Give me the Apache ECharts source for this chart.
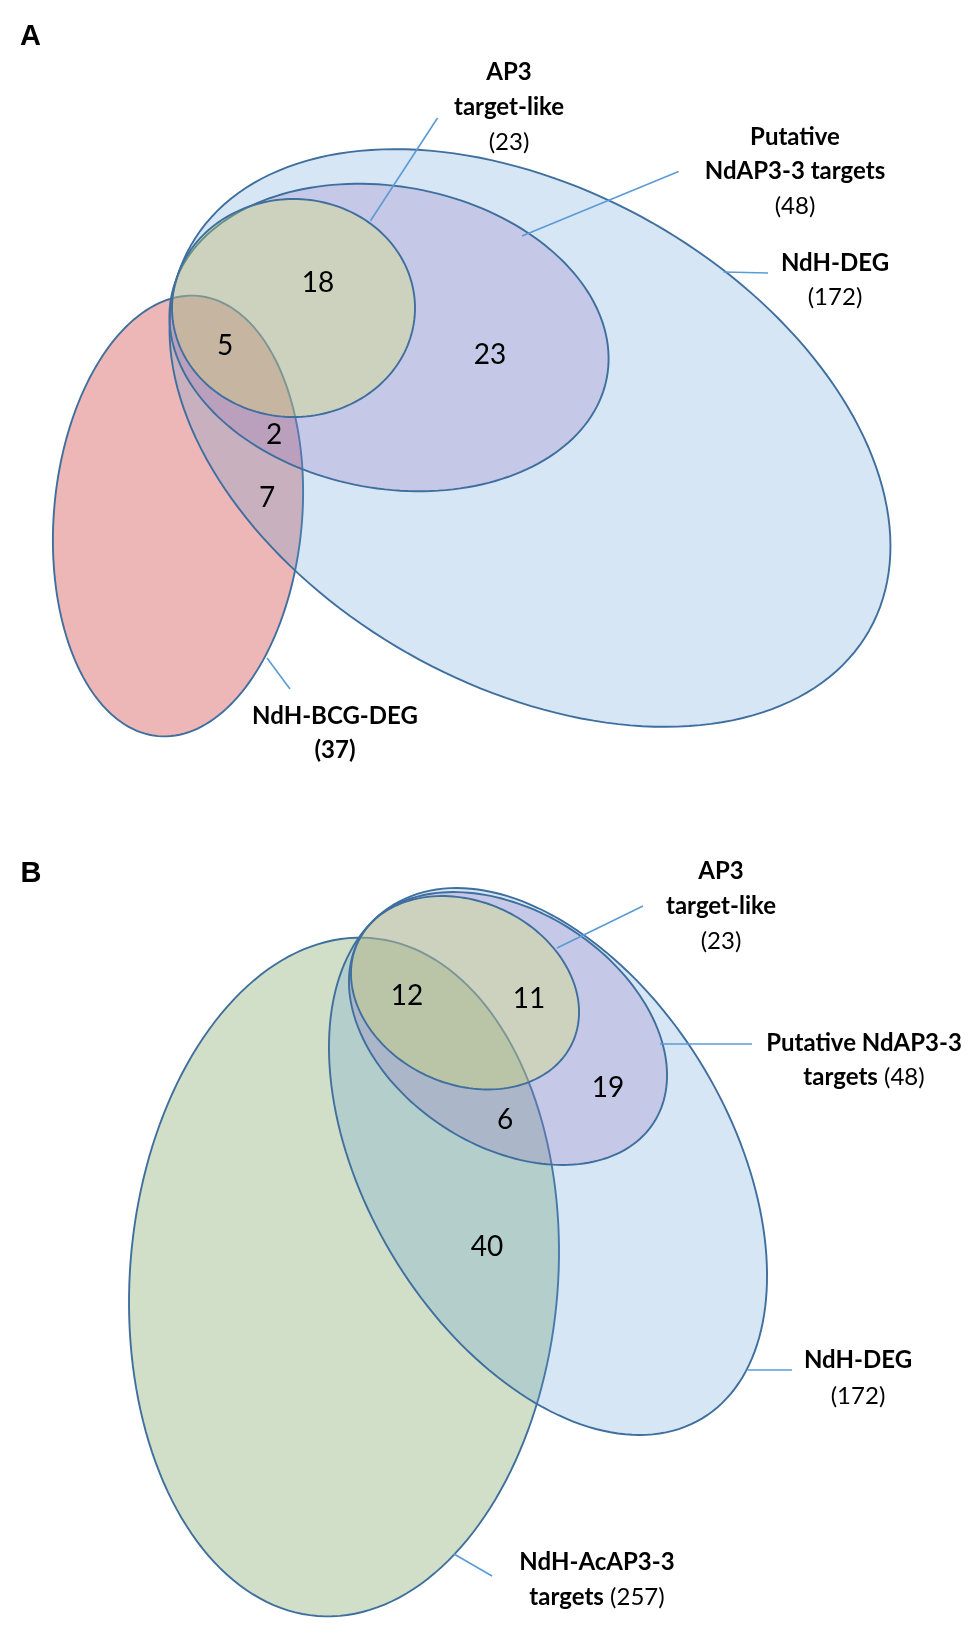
<!DOCTYPE html>
<html>
<head>
<meta charset="utf-8">
<title>Venn</title>
<script src="https://cdn.jsdelivr.net/npm/echarts@6/dist/echarts.min.js"></script>
<style>
html, body { margin: 0; padding: 0; background: #fff; }
#main { width: 975px; height: 1625px; }
</style>
</head>
<body>
<div id="main"></div>
<script>
// set sizes (numbers in brackets)
var setNames = ['NdH-DEG', 'Putative NdAP3-3 targets', 'AP3 target-like', 'NdH-BCG-DEG', 'NdH-AcAP3-3 targets'];
var setSizes = [172, 48, 23, 37, 257];

// counts inside the overlap regions
var regionCountsA = [18, 5, 23, 2, 7];
var regionCountsB = [12, 11, 19, 6, 40];

// where the counts sit (axis units = px, y down)
var regionPosA = [[318, 283], [225, 346], [490, 355], [274, 435], [267, 498]];
var regionPosB = [[407, 996], [529, 999], [608, 1088], [505, 1120], [487, 1247]];

// ellipses: cx, cy, rx, ry, rotation(deg, clockwise), set index
var ellipsesA = [
  [178, 516, 124, 221, 5.2, 3],
  [530, 438, 390, 247.5, 29.6, 0],
  [389, 337.5, 221.5, 151, 10.3, 1],
  [293.5, 308, 121.5, 109, 0, 2]
];
var ellipsesB = [
  [344, 1277, 214, 340, 4.5, 4],
  [548, 1161.5, 299.6, 181.7, 59.1, 0],
  [508, 1028.5, 173.5, 117.5, 32.9, 1],
  [465, 992.75, 118.5, 91.2, 25.2, 2]
];

var setFill = [
  'rgba(91,155,213,0.25)',
  'rgba(146,111,193,0.25)',
  'rgba(233,245,72,0.25)',
  '#EEB7B7',
  '#D1DFC9'
];

// label lines per set label: x, first line y, line step, lines
function sz(i) { return '(' + setSizes[i] + ')'; }
var labelsA = [
  [509, 72.5, 35, ['{b|AP3}', '{b|target-like}', '{n|' + sz(2) + '}']],
  [795, 137, 34.5, ['{b|Putative}', '{b|NdAP3-3 targets}', '{n|' + sz(1) + '}']],
  [835, 263, 34.5, ['{b|NdH-DEG}', '{n|' + sz(0) + '}']],
  [335, 716, 34, ['{b|NdH-BCG-DEG}', '{b|' + sz(3) + '}']]
];
var labelsB = [
  [721, 871, 35, ['{b|AP3}', '{b|target-like}', '{n|' + sz(2) + '}']],
  [864, 1043, 34.5, ['{b|Putative NdAP3-3}', '{b|targets} {n|' + sz(1) + '}']],
  [858, 1360, 36, ['{b|NdH-DEG}', '{n|' + sz(0) + '}']],
  [597, 1562, 35, ['{b|NdH-AcAP3-3}', '{b|targets} {n|' + sz(4) + '}']]
];

// leader lines x1, y1, x2, y2
var leadersA = [
  [437.5, 118, 370.5, 220.7],
  [678.6, 171.6, 522, 236],
  [768, 273, 723.6, 272],
  [290, 689, 267, 658]
];
var leadersB = [
  [643, 906, 557, 948],
  [752, 1044, 660, 1044],
  [792, 1370, 747.5, 1370],
  [492, 1576, 454, 1554]
];

var panelTags = [['A', 30.5, 37], ['B', 31, 874]];

var fontFam = 'Lato, "Open Sans", sans-serif';
var richStyle = {
  b: { fontFamily: fontFam, fontWeight: 'bold', fontSize: 24, fill: '#000' },
  n: { fontFamily: fontFam, fontWeight: 'normal', fontSize: 24, fill: '#000' }
};

var ellipses = ellipsesA.concat(ellipsesB);
var labels = labelsA.concat(labelsB);
var leaders = leadersA.concat(leadersB);

var chart = echarts.init(document.getElementById('main'));

// one text row per label line
var labelRows = [];
labels.forEach(function (l) {
  l[3].forEach(function (t, k) {
    labelRows.push([l[0], l[1] + k * l[2], t]);
  });
});

var countRows = [];
regionCountsA.forEach(function (c, i) { countRows.push([regionPosA[i][0], regionPosA[i][1], c]); });
regionCountsB.forEach(function (c, i) { countRows.push([regionPosB[i][0], regionPosB[i][1], c]); });

var option = {
  animation: false,
  grid: { left: 0, right: 0, top: 0, bottom: 0 },
  xAxis: { type: 'value', min: 0, max: 975, show: false },
  yAxis: { type: 'value', min: 0, max: 1625, inverse: true, show: false },
  series: [
    {
      // set ellipses, drawn bottom to top
      type: 'custom',
      data: ellipses.map(function (e, i) { return [e[0], e[1], i]; }),
      renderItem: function (params, api) {
        var e = ellipses[api.value(2)];
        var th = e[4] * Math.PI / 180;
        var pts = [];
        for (var k = 0; k < 180; k++) {
          var t = 2 * Math.PI * k / 180;
          var x = e[0] + e[2] * Math.cos(t) * Math.cos(th) - e[3] * Math.sin(t) * Math.sin(th);
          var y = e[1] + e[2] * Math.cos(t) * Math.sin(th) + e[3] * Math.sin(t) * Math.cos(th);
          pts.push(api.coord([x, y]));
        }
        return {
          type: 'polygon',
          shape: { points: pts },
          style: { fill: setFill[e[5]], stroke: '#3F6F9E', lineWidth: 1.9 }
        };
      },
      silent: true
    },
    {
      // leader lines
      type: 'custom',
      data: leaders.map(function (l, i) { return [l[0], l[1], i]; }),
      renderItem: function (params, api) {
        var l = leaders[api.value(2)];
        var p1 = api.coord([l[0], l[1]]);
        var p2 = api.coord([l[2], l[3]]);
        return {
          type: 'line',
          shape: { x1: p1[0], y1: p1[1], x2: p2[0], y2: p2[1] },
          style: { stroke: '#5B9BD5', lineWidth: 1.6 }
        };
      },
      silent: true
    },
    {
      // set labels
      type: 'custom',
      data: labelRows.map(function (r, i) { return [r[0], r[1], i]; }),
      renderItem: function (params, api) {
        var r = labelRows[api.value(2)];
        var p = api.coord([r[0], r[1]]);
        return {
          type: 'text',
          style: {
            x: p[0], y: p[1], text: r[2], rich: richStyle,
            align: 'center', verticalAlign: 'middle',
            fontFamily: fontFam, fontSize: 24, fill: '#000'
          }
        };
      },
      silent: true
    },
    {
      // region counts
      type: 'custom',
      data: countRows,
      renderItem: function (params, api) {
        var p = api.coord([api.value(0), api.value(1)]);
        return {
          type: 'text',
          style: {
            x: p[0], y: p[1], text: String(api.value(2)),
            align: 'center', verticalAlign: 'middle',
            fontFamily: fontFam, fontSize: 28, fill: '#000'
          }
        };
      },
      silent: true
    },
    {
      // panel tags
      type: 'custom',
      data: panelTags.map(function (p, i) { return [p[1], p[2], i]; }),
      renderItem: function (params, api) {
        var tag = panelTags[api.value(2)];
        var p = api.coord([tag[1], tag[2]]);
        return {
          type: 'text',
          style: {
            x: p[0], y: p[1], text: tag[0],
            align: 'center', verticalAlign: 'middle',
            fontFamily: '"Liberation Sans", Arial, sans-serif', fontWeight: 'bold', fontSize: 29, fill: '#000'
          }
        };
      },
      silent: true
    }
  ]
};

chart.setOption(option);
window.onresize = chart.resize;
</script>
</body>
</html>
